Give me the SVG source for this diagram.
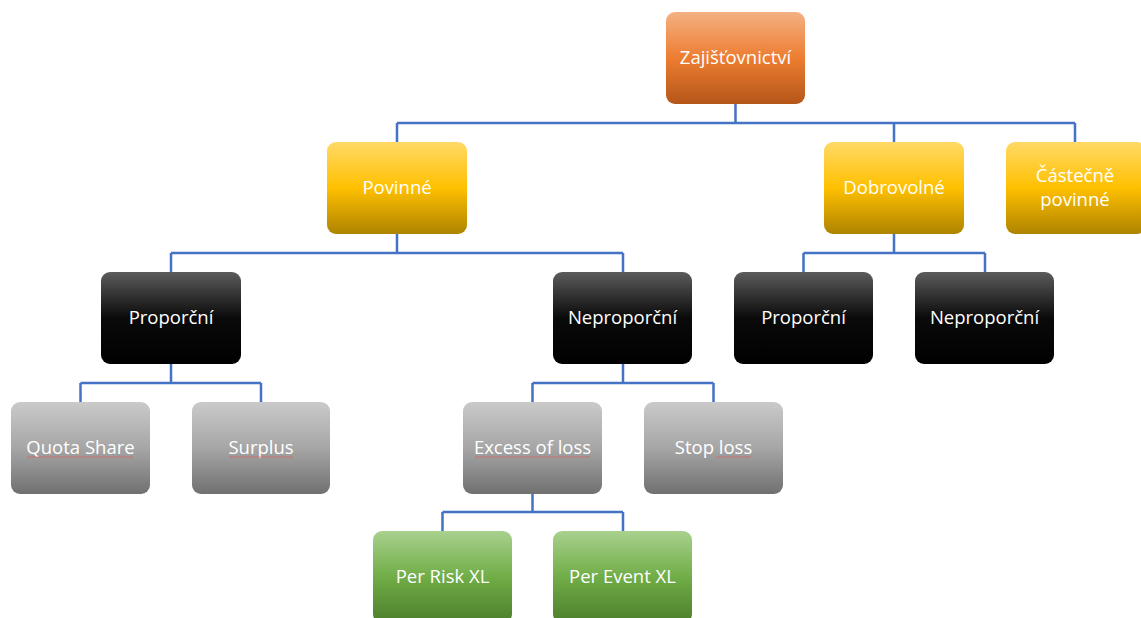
<svg xmlns="http://www.w3.org/2000/svg" width="1141" height="618" viewBox="0 0 1141 618">
<defs>
<linearGradient id="gOrange" x1="0" y1="0" x2="0" y2="1">
<stop offset="0" stop-color="#F4B183"/><stop offset="0.5" stop-color="#ED7D31"/><stop offset="1" stop-color="#B5561A"/>
</linearGradient>
<linearGradient id="gYellow" x1="0" y1="0" x2="0" y2="1">
<stop offset="0" stop-color="#FFD966"/><stop offset="0.5" stop-color="#FFC000"/><stop offset="1" stop-color="#AE8300"/>
</linearGradient>
<linearGradient id="gBlack" x1="0" y1="0" x2="0" y2="1">
<stop offset="0" stop-color="#5C5C5C"/><stop offset="0.5" stop-color="#0A0A0A"/><stop offset="1" stop-color="#000000"/>
</linearGradient>
<linearGradient id="gGrey" x1="0" y1="0" x2="0" y2="1">
<stop offset="0" stop-color="#CACACA"/><stop offset="0.5" stop-color="#A6A6A6"/><stop offset="1" stop-color="#707070"/>
</linearGradient>
<linearGradient id="gGreen" x1="0" y1="0" x2="0" y2="1">
<stop offset="0" stop-color="#A9D18E"/><stop offset="0.5" stop-color="#70AD47"/><stop offset="1" stop-color="#4C7E2C"/>
</linearGradient>
</defs>
<style>
.t{font-family:"Open Sans","Noto Sans","Liberation Sans",sans-serif;font-size:18.5px;fill:#FFFFFF;text-anchor:middle}
.c{fill:none;stroke:#4472C4;stroke-width:2.5}
.sp{stroke:#E06060;stroke-width:1;opacity:0.7}
</style>
<rect width="1141" height="618" fill="#FFFFFF"/>
<g id="connectors">
<path class="c" d="M735.5 104V123M397 123H1075M397 123V142M894 123V142M1075 123V142"/>
<path class="c" d="M397 234V253M171 253H623M171 253V272M623 253V272"/>
<path class="c" d="M894 234V253M803.5 253H985M803.5 253V272M985 253V272"/>
<path class="c" d="M171 364V383M80.5 383H261M80.5 383V402M261 383V402"/>
<path class="c" d="M623 364V383M532.5 383H713.5M532.5 383V402M713.5 383V402"/>
<path class="c" d="M532.5 494V512M442.5 512H623M442.5 512V531M623 512V531"/>
</g>
<g id="n-zajistovnictvi"><rect x="666" y="12" width="139" height="92" rx="9" fill="url(#gOrange)"/><text class="t" x="735.5" y="64">Zajišťovnictví</text></g>
<g id="n-povinne"><rect x="327" y="142" width="140" height="92" rx="9" fill="url(#gYellow)"/><text class="t" x="397" y="194">Povinné</text></g>
<g id="n-dobrovolne"><rect x="824" y="142" width="140" height="92" rx="9" fill="url(#gYellow)"/><text class="t" x="894" y="194">Dobrovolné</text></g>
<g id="n-castecne"><rect x="1006" y="142" width="140" height="92" rx="9" fill="url(#gYellow)"/><text class="t" x="1075" y="182">Částečně</text><text class="t" x="1075" y="206">povinné</text></g>
<g id="n-proporcni-1"><rect x="101" y="272" width="140" height="92" rx="9" fill="url(#gBlack)"/><text class="t" x="171" y="324">Proporční</text></g>
<g id="n-neproporcni-1"><rect x="553" y="272" width="139" height="92" rx="9" fill="url(#gBlack)"/><text class="t" x="622.5" y="324">Neproporční</text></g>
<g id="n-proporcni-2"><rect x="734" y="272" width="139" height="92" rx="9" fill="url(#gBlack)"/><text class="t" x="803.5" y="324">Proporční</text></g>
<g id="n-neproporcni-2"><rect x="915" y="272" width="139" height="92" rx="9" fill="url(#gBlack)"/><text class="t" x="984.5" y="324">Neproporční</text></g>
<g id="n-quota"><rect x="11" y="402" width="139" height="92" rx="9" fill="url(#gGrey)"/><text class="t" x="80.5" y="454">Quota Share</text><path class="sp" d="M27 457H133"/></g>
<g id="n-surplus"><rect x="192" y="402" width="138" height="92" rx="9" fill="url(#gGrey)"/><text class="t" x="261" y="454">Surplus</text><path class="sp" d="M229 457H293"/></g>
<g id="n-excess"><rect x="463" y="402" width="139" height="92" rx="9" fill="url(#gGrey)"/><text class="t" x="532.5" y="454">Excess of loss</text><path class="sp" d="M475 457H590"/></g>
<g id="n-stop"><rect x="644" y="402" width="139" height="92" rx="9" fill="url(#gGrey)"/><text class="t" x="713.5" y="454">Stop loss</text><path class="sp" d="M716 457H751"/></g>
<g id="n-perrisk"><rect x="373" y="531" width="139" height="92" rx="9" fill="url(#gGreen)"/><text class="t" x="442.5" y="583">Per Risk XL</text></g>
<g id="n-perevent"><rect x="553" y="531" width="139" height="92" rx="9" fill="url(#gGreen)"/><text class="t" x="622.5" y="583">Per Event XL</text></g>
</svg>
